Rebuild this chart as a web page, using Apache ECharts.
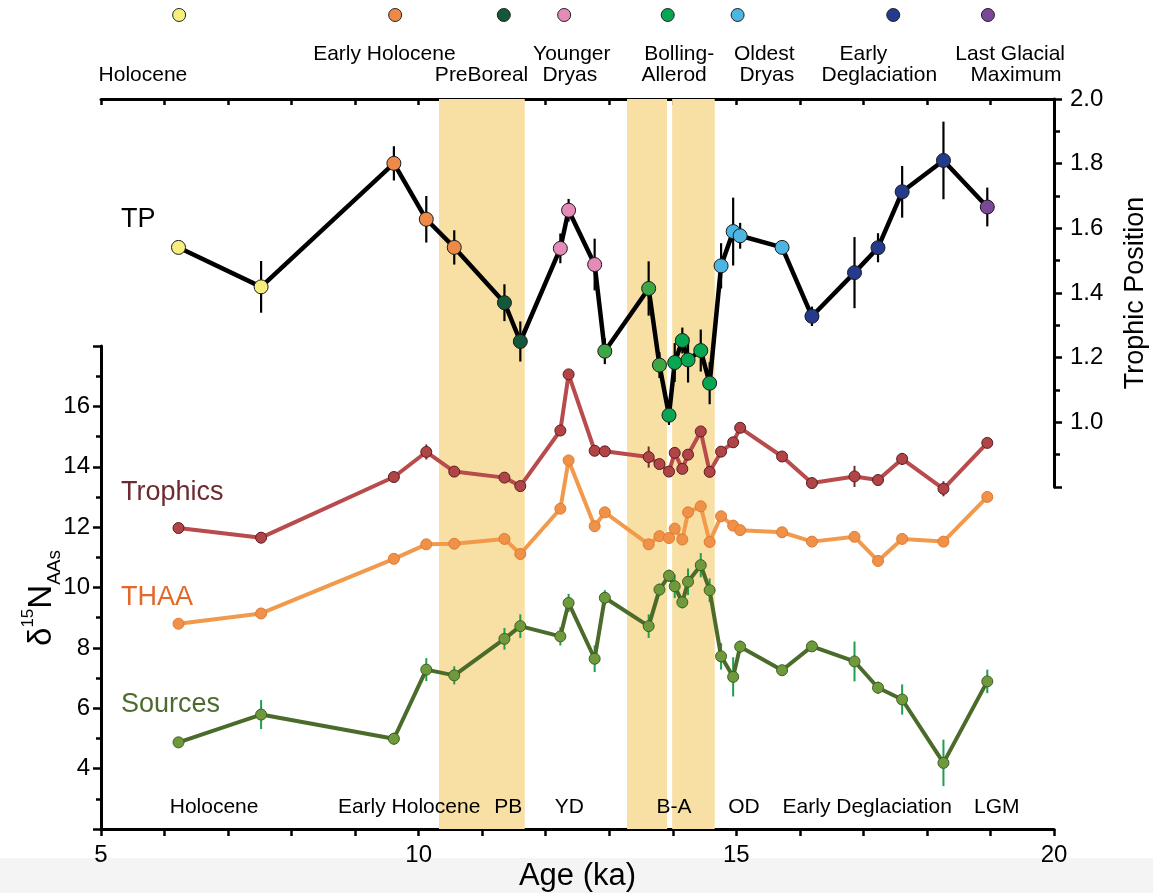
<!DOCTYPE html>
<html>
<head>
<meta charset="utf-8">
<script src="https://cdn.jsdelivr.net/npm/echarts/dist/echarts.min.js"></script>
<style>
  html, body { margin: 0; padding: 0; background: #fff; }
  #main { width: 1153px; height: 893px; }
</style>
</head>
<body>
<div id="main"></div>
<script>
// sample ages (ka), shared by all series
const ages = [6.22, 7.52, 9.61, 10.12, 10.56, 11.35, 11.60, 12.23, 12.36, 12.77, 12.93, 13.62, 13.79, 13.94, 14.03,
  14.15, 14.24, 14.44, 14.58, 14.76, 14.95, 15.06, 15.72, 16.19, 16.86, 17.23, 17.61, 18.26, 18.95]

// trophic position (right axis)
const tp = [1.541, 1.419, 1.801, 1.628, 1.541, 1.370, 1.250, 1.538, 1.656, 1.488, 1.220, 1.414, 1.177, 1.022, 1.185,
  1.253, 1.193, 1.222, 1.121, 1.484, 1.590, 1.577, 1.541, 1.328, 1.463, 1.540, 1.713, 1.810, 1.666]
const tpErr = [0.015, 0.08, 0.053, 0.072, 0.053, 0.057, 0.062, 0.046, 0.035, 0.08, 0.04, 0.084, 0.04, 0.03, 0.06,
  0.04, 0.07, 0.065, 0.065, 0.07, 0.105, 0.04, 0.015, 0.03, 0.11, 0.045, 0.08, 0.12, 0.06]
// climate phase of each TP sample
const tpPhase = [0, 0, 1, 1, 1, 2, 2, 3, 3, 3, 4, 4, 4, 5, 5, 5, 5, 5, 5, 6, 6, 6, 6, 7, 7, 7, 7, 7, 8]

// d15N of amino acid groups (left axis)
const trophics = [11.97, 11.65, 13.66, 14.49, 13.84, 13.64, 13.36, 15.20, 17.06, 14.53, 14.51, 14.32, 14.09, 13.84, 14.46,
  13.93, 14.40, 15.17, 13.83, 14.50, 14.81, 15.29, 14.34, 13.46, 13.68, 13.56, 14.26, 13.27, 14.79]
const trophicsErr = [0.05, 0.18, 0.05, 0.25, 0.05, 0.05, 0.05, 0.05, 0.05, 0.05, 0.05, 0.35, 0.05, 0.05, 0.1,
  0.05, 0.05, 0.1, 0.05, 0.05, 0.05, 0.05, 0.05, 0.05, 0.35, 0.1, 0.2, 0.25, 0.1]
const thaa = [8.80, 9.14, 10.95, 11.43, 11.45, 11.61, 11.11, 12.61, 14.21, 12.03, 12.49, 11.43, 11.70, 11.64, 11.95,
  11.59, 12.49, 12.69, 11.51, 12.36, 12.05, 11.90, 11.83, 11.52, 11.68, 10.88, 11.61, 11.52, 13.00]
const sources = [4.87, 5.79, 4.99, 7.28, 7.09, 8.30, 8.72, 8.38, 9.49, 7.64, 9.66, 8.72, 9.93, 10.39, 10.04,
  9.51, 10.19, 10.74, 9.91, 7.72, 7.04, 8.04, 7.26, 8.05, 7.55, 6.68, 6.29, 4.19, 6.89]
const sourcesErr = [0.1, 0.48, 0.2, 0.38, 0.3, 0.36, 0.39, 0.3, 0.3, 0.44, 0.25, 0.39, 0.2, 0.2, 0.39,
  0.2, 0.44, 0.4, 0.39, 0.44, 0.65, 0.2, 0.1, 0.1, 0.66, 0.2, 0.5, 0.77, 0.39]

// shaded intervals (ka)
const bands = [[10.32, 11.67], [13.28, 13.91], [13.99, 14.66]]

// phase key along the top: [age, phase]
const phaseDots = [[6.23, 0], [9.63, 1], [11.34, 2], [12.29, 3], [13.92, 5], [15.02, 6], [17.47, 7], [18.96, 8]]
// top labels: [text, age, row]
const topLabels = [
  ['Holocene', 5.66, 1], ['Early Holocene', 9.46, 0], ['PreBoreal', 10.99, 1],
  ['Younger', 12.41, 0], ['Dryas', 12.38, 1], ['Bolling-', 14.10, 0], ['Allerod', 14.02, 1],
  ['Oldest', 15.44, 0], ['Dryas', 15.48, 1], ['Early', 17.00, 0], ['Deglaciation', 17.25, 1],
  ['Last Glacial', 19.31, 0], ['Maximum', 19.40, 1]
]
// bottom labels: [text, age]
const bottomLabels = [
  ['Holocene', 6.78], ['Early Holocene', 9.85], ['PB', 11.41], ['YD', 12.37], ['B-A', 14.02],
  ['OD', 15.12], ['Early Deglaciation', 17.06], ['LGM', 19.10]
]

const phaseColors = ['#f6ef7e', '#ee8a47', '#14573a', '#e58bb8', '#3fa646', '#06a652', '#4db5e2', '#243a8c', '#7b4897']
const FONT = '"Liberation Sans", Arial, sans-serif'

const chart = echarts.init(document.getElementById('main'))

function errorBars(vals, errs, xIdx, yIdx, color, width) {
  return {
    type: 'custom',
    xAxisIndex: xIdx,
    yAxisIndex: yIdx,
    z: 3,
    silent: true,
    renderItem(params, api) {
      const a = api.coord([api.value(0), api.value(1)])
      const b = api.coord([api.value(0), api.value(2)])
      return {
        type: 'line',
        shape: { x1: a[0], y1: a[1], x2: b[0], y2: b[1] },
        style: { stroke: color, lineWidth: width }
      }
    },
    data: ages.map((a, i) => [a, vals[i] - errs[i], vals[i] + errs[i]])
  }
}

function lineSeries(name, vals, lineColor, fill, border, width) {
  return {
    name,
    type: 'line',
    xAxisIndex: 0,
    yAxisIndex: 0,
    z: 4,
    symbol: 'circle',
    symbolSize: 11,
    lineStyle: { color: lineColor, width },
    itemStyle: { color: fill, borderColor: border, borderWidth: 1 },
    data: ages.map((a, i) => [a, vals[i]])
  }
}

const axisLine = { lineStyle: { color: '#000', width: 3 } }
const tickStyle = { color: '#000', width: 2.5 }

chart.setOption({
  animation: false,
  backgroundColor: '#fff',
  grid: [
    { left: 101, right: 99, top: 346, bottom: 64, outerBoundsMode: 'none' },
    { left: 101, right: 99, top: 99, bottom: 406, outerBoundsMode: 'none' },
    { left: 101, right: 99, top: 99, bottom: 64, outerBoundsMode: 'none' }
  ],
  xAxis: [
    {
      gridIndex: 0, type: 'value', min: 5, max: 20, interval: 1,
      axisLine, splitLine: { show: false },
      axisTick: { length: 7, lineStyle: tickStyle },
      axisLabel: {
        fontSize: 24, color: '#000', fontFamily: FONT, margin: 14,
        formatter: v => (v % 5 === 0 ? String(v) : '')
      },
      name: 'Age (ka)', nameLocation: 'middle', nameGap: 32, nameMoveOverlap: false,
      nameTextStyle: { fontSize: 31, color: '#000', fontFamily: FONT }
    },
    {
      gridIndex: 1, type: 'value', min: 5, max: 20, interval: 1, position: 'top',
      axisLine, splitLine: { show: false },
      axisTick: { inside: true, length: 6, lineStyle: tickStyle },
      axisLabel: { show: false }
    },
    { gridIndex: 2, type: 'value', min: 5, max: 20, show: false }
  ],
  yAxis: [
    {
      gridIndex: 0, type: 'value', min: 2, max: 18, interval: 2,
      axisLine: { show: true, lineStyle: { color: '#000', width: 3 } },
      splitLine: { show: false },
      axisTick: { show: true, length: 8, lineStyle: tickStyle },
      minorTick: { show: true, splitNumber: 2, length: 5, lineStyle: tickStyle },
      axisLabel: {
        fontSize: 24, color: '#000', fontFamily: FONT, margin: 11,
        formatter: v => (v <= 2 || v >= 18 ? '' : String(v))
      }
    },
    {
      gridIndex: 1, type: 'value', min: 0.8, max: 2.0, interval: 0.2, position: 'right',
      axisLine: { show: true, lineStyle: { color: '#000', width: 3 } },
      splitLine: { show: false },
      axisTick: { show: true, length: 8, lineStyle: tickStyle },
      minorTick: { show: true, splitNumber: 2, length: 6, lineStyle: tickStyle },
      axisLabel: {
        fontSize: 24, color: '#000', fontFamily: FONT, margin: 16,
        formatter: v => (v < 0.9 ? '' : v.toFixed(1))
      },
      name: 'Trophic Position', nameLocation: 'middle', nameRotate: 90, nameGap: 68,
      nameTextStyle: { fontSize: 27, color: '#000', fontFamily: FONT }
    },
    { gridIndex: 2, type: 'value', min: 0, max: 1, show: false }
  ],
  series: [
    {
      // shaded intervals
      type: 'custom',
      xAxisIndex: 2,
      yAxisIndex: 2,
      z: 1,
      silent: true,
      renderItem(params, api) {
        const p0 = api.coord([api.value(0), 1])
        const p1 = api.coord([api.value(1), 0])
        return {
          type: 'rect',
          shape: { x: p0[0], y: p0[1], width: p1[0] - p0[0], height: p1[1] - p0[1] },
          style: { fill: '#f8e0a4' }
        }
      },
      data: bands
    },
    errorBars(trophics, trophicsErr, 0, 0, '#7a2a2c', 2),
    errorBars(sources, sourcesErr, 0, 0, '#1f9e4f', 2),
    lineSeries('Trophics', trophics, '#b84c4d', '#b04446', '#5a1f22', 4),
    lineSeries('THAA', thaa, '#f29a4c', '#f0914a', '#e07a30', 4),
    lineSeries('Sources', sources, '#4b6b2b', '#6e9a3c', '#3f5e24', 4),
    errorBars(tp, tpErr, 1, 1, '#000', 2.2),
    {
      name: 'TP',
      type: 'line',
      xAxisIndex: 1,
      yAxisIndex: 1,
      z: 5,
      symbol: 'circle',
      symbolSize: 14,
      lineStyle: { color: '#000', width: 4.5 },
      itemStyle: { borderColor: '#1a1a1a', borderWidth: 1 },
      data: ages.map((a, i) => ({ value: [a, tp[i]], itemStyle: { color: phaseColors[tpPhase[i]] } }))
    }
  ]
})

// annotations placed through the x axis scale
const px = ka => chart.convertToPixel({ xAxisIndex: 0 }, ka)
const graphics = [
  { type: 'rect', z: -10, silent: true, shape: { x: 0, y: 858, width: 1153, height: 35 }, style: { fill: '#f4f4f4' } },
  {
    type: 'text', x: 42, y: 598, rotation: Math.PI / 2, z: 100,
    style: {
      text: '{d|δ}{s|15}{n|N}{b|AAs}',
      align: 'center', verticalAlign: 'middle', fill: '#000',
      rich: {
        d: { fontSize: 33, fontFamily: FONT, lineHeight: 44, fill: '#000' },
        s: { fontSize: 17, fontFamily: FONT, verticalAlign: 'top', lineHeight: 20, fill: '#000' },
        n: { fontSize: 33, fontFamily: FONT, lineHeight: 44, fill: '#000' },
        b: { fontSize: 19, fontFamily: FONT, verticalAlign: 'bottom', lineHeight: 22, fill: '#000' }
      }
    }
  },
  { type: 'text', x: 121, y: 220, z: 100, style: { text: 'TP', font: '27px ' + FONT, fill: '#000', verticalAlign: 'middle' } },
  { type: 'text', x: 121, y: 493, z: 100, style: { text: 'Trophics', font: '27px ' + FONT, fill: '#6e2a30', verticalAlign: 'middle' } },
  { type: 'text', x: 121, y: 598, z: 100, style: { text: 'THAA', font: '27px ' + FONT, fill: '#e2692a', verticalAlign: 'middle' } },
  { type: 'text', x: 121, y: 705, z: 100, style: { text: 'Sources', font: '27px ' + FONT, fill: '#4d6b2e', verticalAlign: 'middle' } }
]
phaseDots.forEach(([ka, ph]) => {
  graphics.push({
    type: 'circle', z: 100, shape: { cx: px(ka), cy: 15, r: 6.5 },
    style: { fill: phaseColors[ph], stroke: '#222', lineWidth: 1 }
  })
})
topLabels.forEach(([t, ka, row]) => {
  graphics.push({
    type: 'text', z: 100, x: px(ka), y: row === 0 ? 54 : 75,
    style: { text: t, font: '21px ' + FONT, fill: '#000', align: 'center', verticalAlign: 'middle' }
  })
})
bottomLabels.forEach(([t, ka]) => {
  graphics.push({
    type: 'text', z: 100, x: px(ka), y: 807,
    style: { text: t, font: '21px ' + FONT, fill: '#000', align: 'center', verticalAlign: 'middle' }
  })
})
chart.setOption({ graphic: graphics })
</script>
</body>
</html>
